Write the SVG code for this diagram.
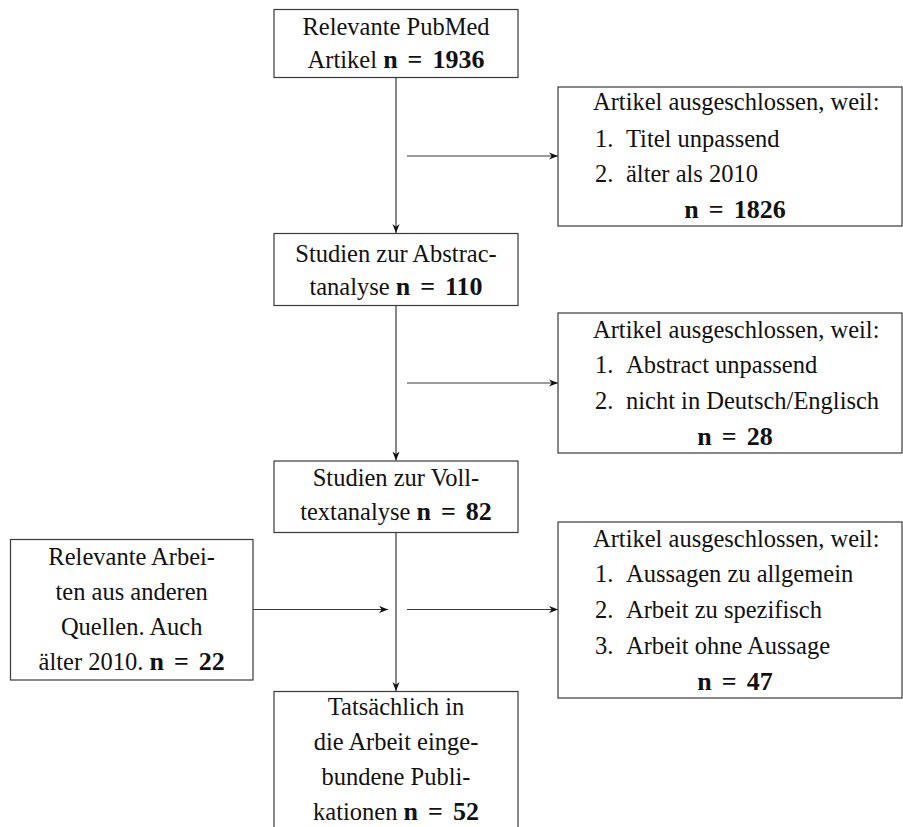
<svg xmlns="http://www.w3.org/2000/svg" width="903" height="827" viewBox="0 0 903 827">
<style>
  .box { fill: #ffffff; stroke: #3a3a3a; stroke-width: 1.2; }
  .conn { fill: none; stroke: #3a3a3a; stroke-width: 1.2; }
  text { font-family: "Liberation Serif", "Times New Roman", serif; font-size: 24.5px; fill: #111111; }
  .c { text-anchor: middle; }
  .b { font-weight: bold; font-size: 26px; word-spacing: 3.5px; }
</style>
<defs>
  <marker id="arr" viewBox="0 0 10 8" refX="10" refY="4" markerWidth="9" markerHeight="7.2" orient="auto" markerUnits="userSpaceOnUse">
    <path d="M0,0 L10,4 L0,8 L3,4 z" fill="#111111"/>
  </marker>
</defs>
<rect width="903" height="827" fill="#ffffff"/>

<g id="connectors">
  <line class="conn" x1="396" y1="77" x2="396" y2="233" marker-end="url(#arr)"/>
  <line class="conn" x1="407" y1="156" x2="558" y2="156" marker-end="url(#arr)"/>
  <line class="conn" x1="396" y1="305" x2="396" y2="460.5" marker-end="url(#arr)"/>
  <line class="conn" x1="407" y1="383" x2="558" y2="383" marker-end="url(#arr)"/>
  <line class="conn" x1="396" y1="532.5" x2="396" y2="691" marker-end="url(#arr)"/>
  <line class="conn" x1="253" y1="609.5" x2="388" y2="609.5" marker-end="url(#arr)"/>
  <line class="conn" x1="407" y1="609.5" x2="558" y2="609.5" marker-end="url(#arr)"/>
</g>

<g id="node-pubmed">
  <rect class="box" x="274" y="9.5" width="244" height="68"/>
  <text class="c" x="396" y="35">Relevante PubMed</text>
  <text class="c" x="396" y="68">Artikel <tspan class="b">n = 1936</tspan></text>
</g>

<g id="node-excl1">
  <rect class="box" x="558" y="87" width="344" height="139"/>
  <text x="593" y="110">Artikel ausgeschlossen, weil:</text>
  <text x="595" y="146.5">1.</text><text x="626" y="146.5">Titel unpassend</text>
  <text x="595" y="182">2.</text><text x="626" y="182">älter als 2010</text>
  <text class="c b" x="735" y="218">n = 1826</text>
</g>

<g id="node-abstract">
  <rect class="box" x="274" y="233.5" width="244" height="72"/>
  <text class="c" x="396" y="262">Studien zur Abstrac-</text>
  <text class="c" x="396" y="295">tanalyse <tspan class="b">n = 110</tspan></text>
</g>

<g id="node-excl2">
  <rect class="box" x="558" y="313" width="344" height="140"/>
  <text x="593" y="338">Artikel ausgeschlossen, weil:</text>
  <text x="595" y="373">1.</text><text x="626" y="373">Abstract unpassend</text>
  <text x="595" y="408.5">2.</text><text x="626" y="408.5">nicht in Deutsch/Englisch</text>
  <text class="c b" x="735" y="445">n = 28</text>
</g>

<g id="node-volltext">
  <rect class="box" x="274" y="461" width="244" height="71.5"/>
  <text class="c" x="396" y="486">Studien zur Voll-</text>
  <text class="c" x="396" y="520">textanalyse <tspan class="b">n = 82</tspan></text>
</g>

<g id="node-other">
  <rect class="box" x="10.5" y="539.5" width="242.5" height="140.5"/>
  <text class="c" x="131.7" y="565">Relevante Arbei-</text>
  <text class="c" x="131.7" y="600">ten aus anderen</text>
  <text class="c" x="131.7" y="635">Quellen. Auch</text>
  <text class="c" x="131.7" y="670">älter 2010. <tspan class="b">n = 22</tspan></text>
</g>

<g id="node-excl3">
  <rect class="box" x="558" y="522" width="344" height="176"/>
  <text x="593" y="546.5">Artikel ausgeschlossen, weil:</text>
  <text x="595" y="582">1.</text><text x="626" y="582">Aussagen zu allgemein</text>
  <text x="595" y="618">2.</text><text x="626" y="618">Arbeit zu spezifisch</text>
  <text x="595" y="653.5">3.</text><text x="626" y="653.5">Arbeit ohne Aussage</text>
  <text class="c b" x="735" y="690">n = 47</text>
</g>

<g id="node-final">
  <rect class="box" x="274" y="691.5" width="244" height="160"/>
  <text class="c" x="396" y="715">Tatsächlich in</text>
  <text class="c" x="396" y="750">die Arbeit einge-</text>
  <text class="c" x="396" y="785">bundene Publi-</text>
  <text class="c" x="396" y="820">kationen <tspan class="b">n = 52</tspan></text>
</g>
</svg>
